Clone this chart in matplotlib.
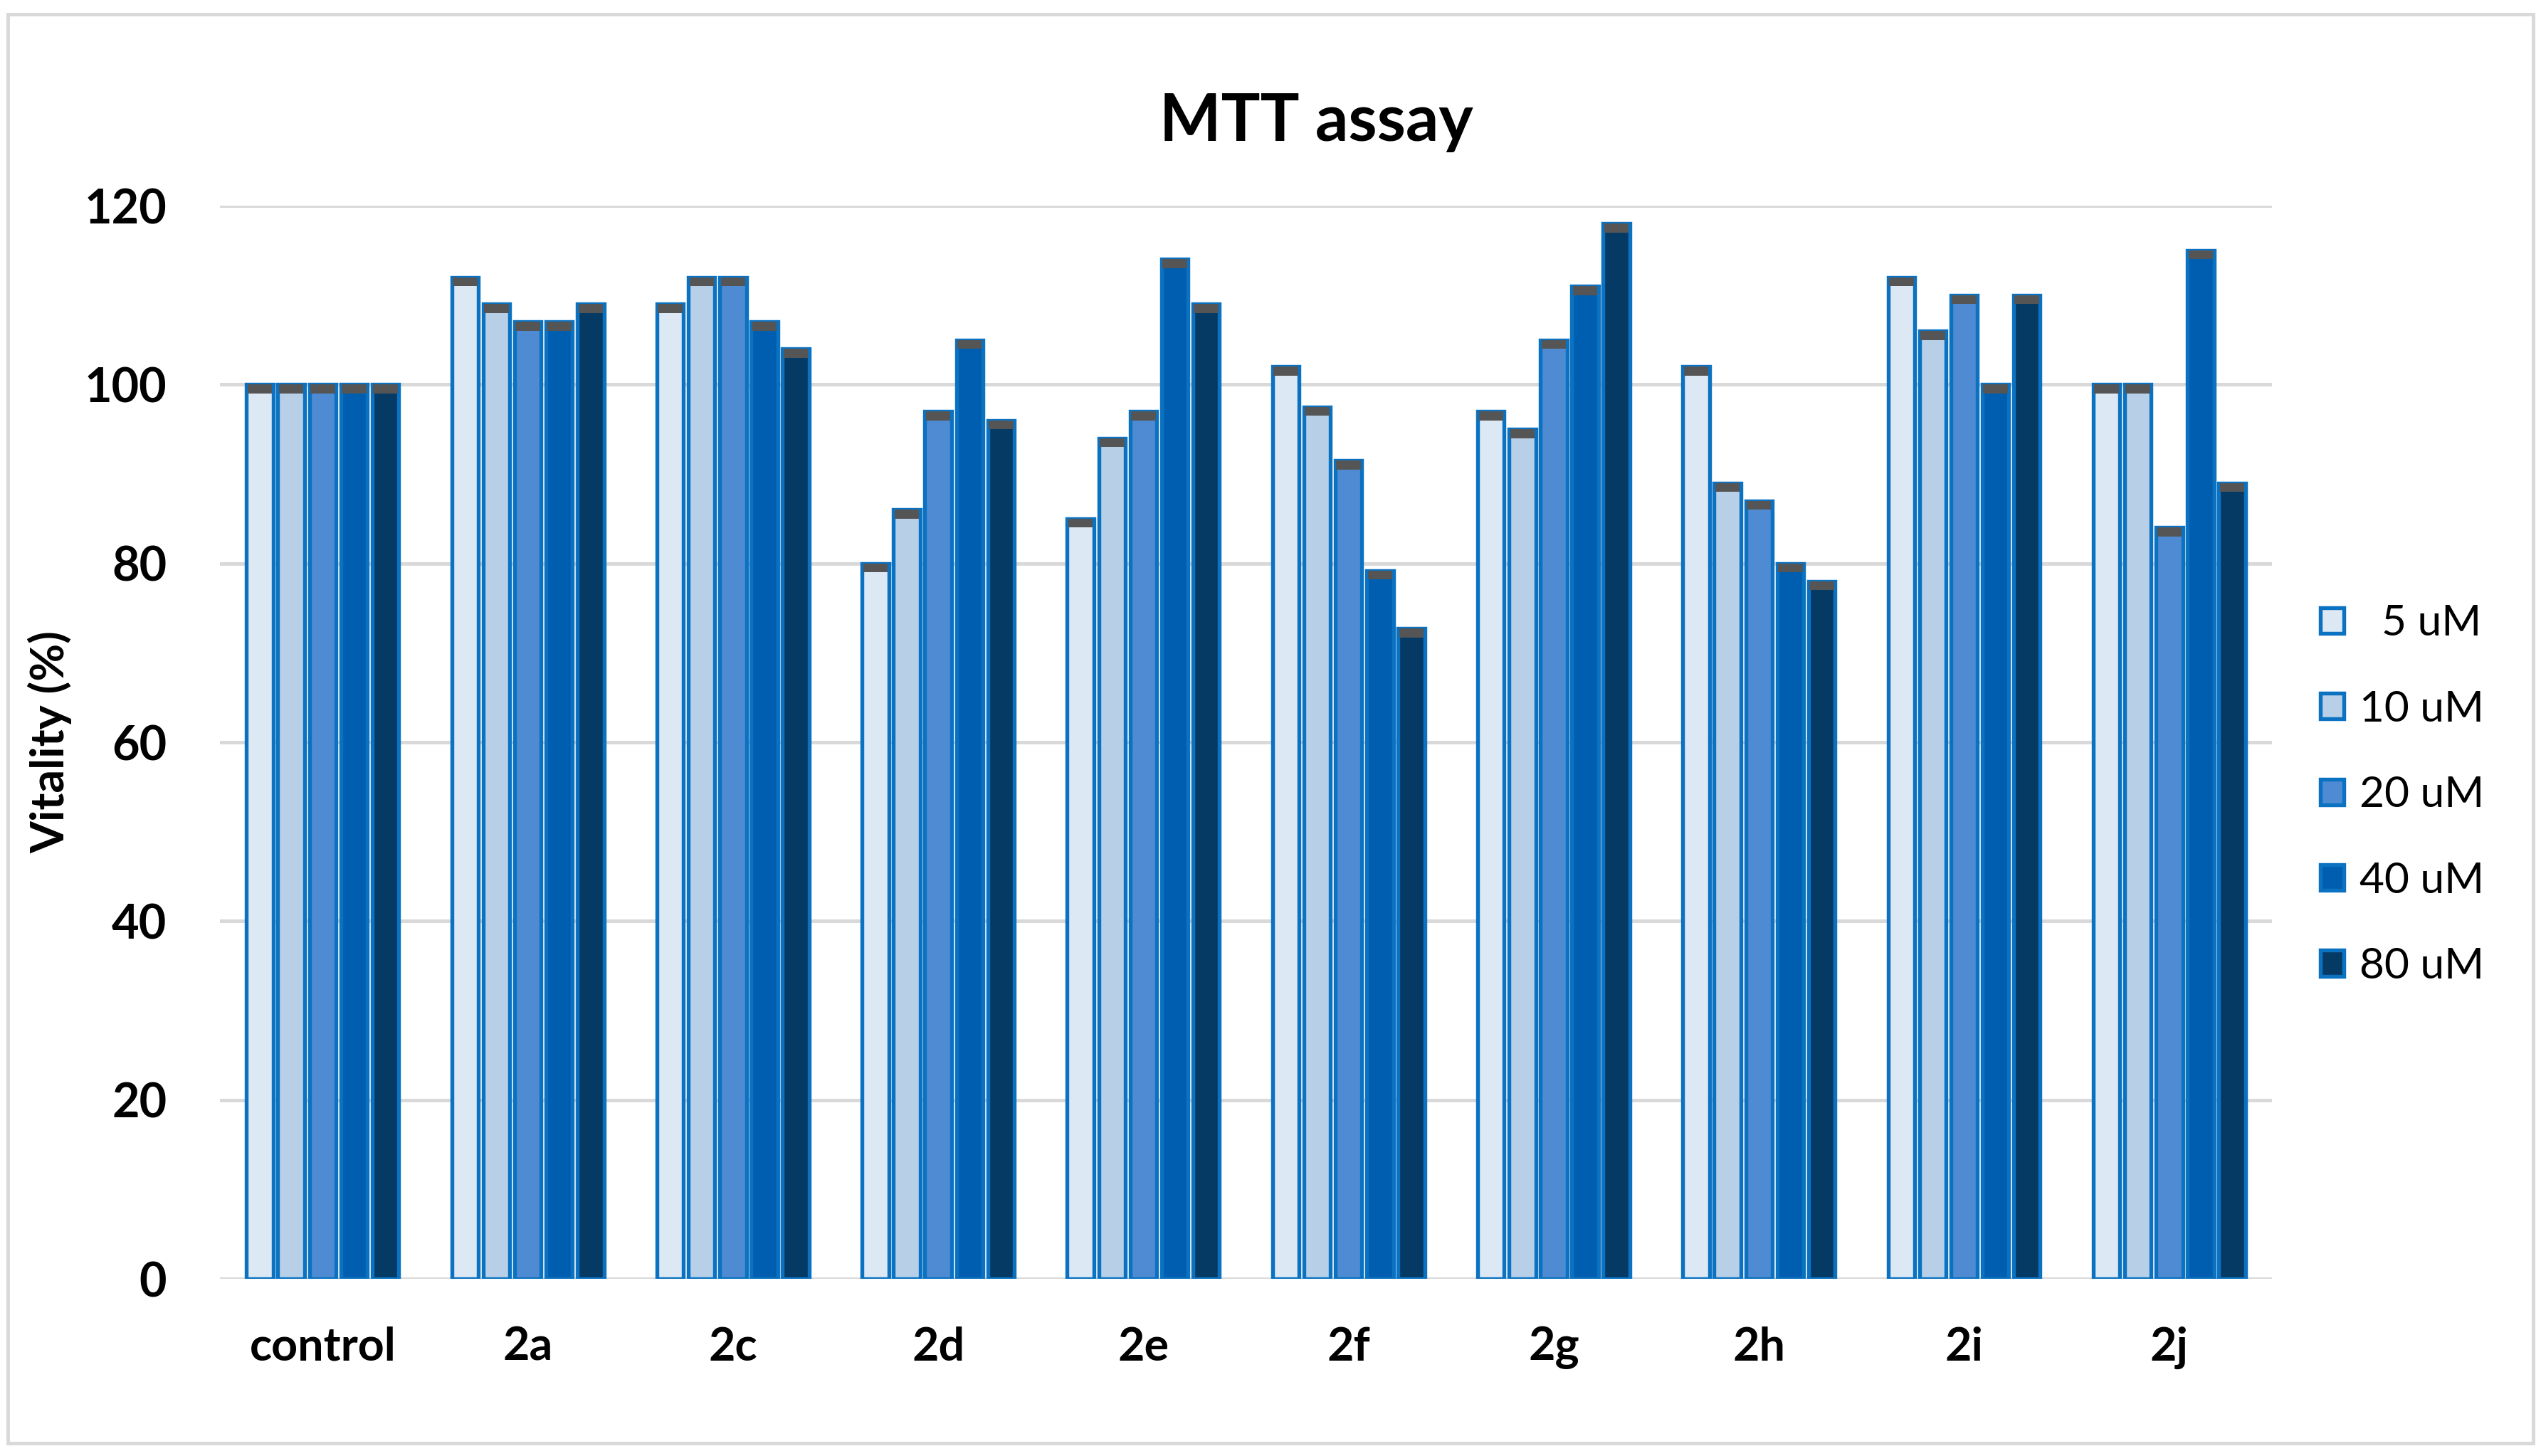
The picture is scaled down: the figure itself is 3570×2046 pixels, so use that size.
import numpy as np
import matplotlib
matplotlib.use("Agg")
import matplotlib.pyplot as plt
from matplotlib.patches import Rectangle

plt.rcParams['font.family'] = ['Lato', 'DejaVu Sans']

# data
groups = ["control", "2a", "2c", "2d", "2e", "2f", "2g", "2h", "2i", "2j"]
doses = ["  5 uM", "10 uM", "20 uM", "40 uM", "80 uM"]
v5 = [100, 112, 109, 80, 85, 102, 97, 102, 112, 100]
v10 = [100, 109, 112, 86, 94, 97.5, 95, 89, 106, 100]
v20 = [100, 107, 112, 97, 97, 91.5, 105, 87, 110, 84]
v40 = [100, 107, 107, 105, 114, 79.2, 111, 80, 100, 115]
v80 = [100, 109, 104, 96, 109, 72.7, 118, 78, 110, 89]
series = [v5, v10, v20, v40, v80]
colors = ["#DCE8F4", "#B7D0E8", "#4F8BD2", "#005EB0", "#053A65"]
y_ticks = [0, 20, 40, 60, 80, 100, 120]

fig = plt.figure(figsize=(11.9, 6.82), dpi=300)
ax = fig.add_axes([0.0866, 0.1217, 0.8075, 0.737])

# chart area border
fig.patches.append(Rectangle((0.003, 0.009), 0.994, 0.981, transform=fig.transFigure,
                             fill=False, edgecolor="#D9D9D9", linewidth=1.2))

x = np.arange(len(groups))
slot = 0.153
width = 0.13
cap_h = 1.0
for i, (vals, col, lab) in enumerate(zip(series, colors, doses)):
    pos = x + (i - 2) * slot
    vals = np.array(vals, dtype=float)
    ax.bar(pos, vals, width, color=col, edgecolor="#0B72C2", linewidth=1.3,
           label=lab, zorder=3)
    ax.bar(pos, cap_h, width * 0.92, bottom=vals - cap_h, color="#555555",
           linewidth=0, zorder=4)

ax.set_xlim(-0.5, len(groups) - 0.5)
ax.set_ylim(0, 120)
ax.set_yticks(y_ticks)
ax.set_yticklabels([str(t) for t in y_ticks], fontsize=16, fontweight="bold")
ax.set_xticks(x)
ax.set_xticklabels(groups, fontsize=15.5, fontweight="bold")
ax.tick_params(axis="both", length=0)
ax.tick_params(axis="y", pad=18)
ax.tick_params(axis="x", pad=16)
ax.grid(axis="y", color="#D9D9D9", linewidth=1.2, zorder=0)
ax.set_axisbelow(True)
for s in ax.spines.values():
    s.set_visible(False)

ax.set_ylabel("Vitality (%)", fontsize=15.5, fontweight="bold", labelpad=4)
fig.text(0.518, 0.916, "MTT assay", ha="center", va="center",
         fontsize=22, fontweight="bold")

leg = fig.legend(loc="center left", bbox_to_anchor=(0.898, 0.454), frameon=False,
                 fontsize=14.5, handlelength=0.55, handleheight=0.55,
                 handletextpad=0.35, labelspacing=1.1)

fig.savefig("out.png", dpi=300)
